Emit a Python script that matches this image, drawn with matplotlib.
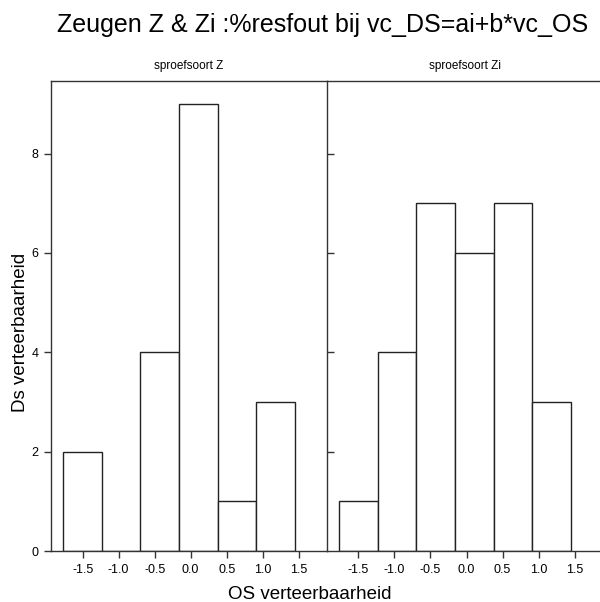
import matplotlib
matplotlib.use("Agg")
import matplotlib.pyplot as plt

plt.rcParams['font.family'] = ['Liberation Sans', 'DejaVu Sans']

# histogram bins (left edges) and counts per subgroup
bin_left = [-1.772, -1.235, -0.698, -0.160, 0.377, 0.914]
bin_width = 0.537
counts_z = [2, 0, 4, 9, 1, 3]
counts_zi = [1, 4, 7, 6, 7, 3]
panel_titles = ['sproefsoort Z', 'sproefsoort Zi']
xticks = [-1.5, -1.0, -0.5, 0.0, 0.5, 1.0, 1.5]
yticks = [0, 2, 4, 6, 8]

line_col = '#333333'

fig = plt.figure(figsize=(6, 6.02), dpi=100)
ax1 = fig.add_axes([0.085, 0.0847, 0.4595, 0.7807])
ax2 = fig.add_axes([0.5445, 0.0847, 0.46, 0.7807])

for ax, counts, title in [(ax1, counts_z, panel_titles[0]),
                          (ax2, counts_zi, panel_titles[1])]:
    ax.bar(bin_left, counts, width=bin_width, align='edge',
           facecolor='white', edgecolor='#222222', linewidth=1.0)
    ax.set_xlim(-1.94, 1.89)
    ax.set_ylim(0, 9.46)
    ax.set_xticks(xticks)
    ax.set_xticklabels(['%.1f' % t for t in xticks])
    ax.tick_params(axis='x', direction='out', length=5, width=1,
                   color=line_col, labelsize=9, pad=4)
    for s in ax.spines.values():
        s.set_color(line_col)
        s.set_linewidth(1.0)
    ax.text(0.5, 1.0255, title, transform=ax.transAxes, ha='center',
            va='baseline', fontsize=8.5)

ax1.set_yticks(yticks)
ax1.tick_params(axis='y', direction='out', length=5, width=1,
                color=line_col, labelsize=9, pad=4)
ax1.spines['right'].set_visible(False)

ax2.set_yticks(yticks[1:])
ax2.set_yticklabels([])
ax2.tick_params(axis='y', direction='in', length=5, width=1, color=line_col)
ax2.spines['right'].set_visible(False)

fig.text(0.538, 0.9468, 'Zeugen Z & Zi :%resfout bij vc_DS=ai+b*vc_OS',
         ha='center', va='baseline', fontsize=18)
fig.text(0.517, 0.013, 'OS verteerbaarheid', ha='center', va='center',
         fontsize=13.5)
fig.text(0.034, 0.447, 'Ds verteerbaarheid', ha='center', va='center',
         rotation=90, fontsize=13.5)

fig.savefig('out.png', dpi=100)
